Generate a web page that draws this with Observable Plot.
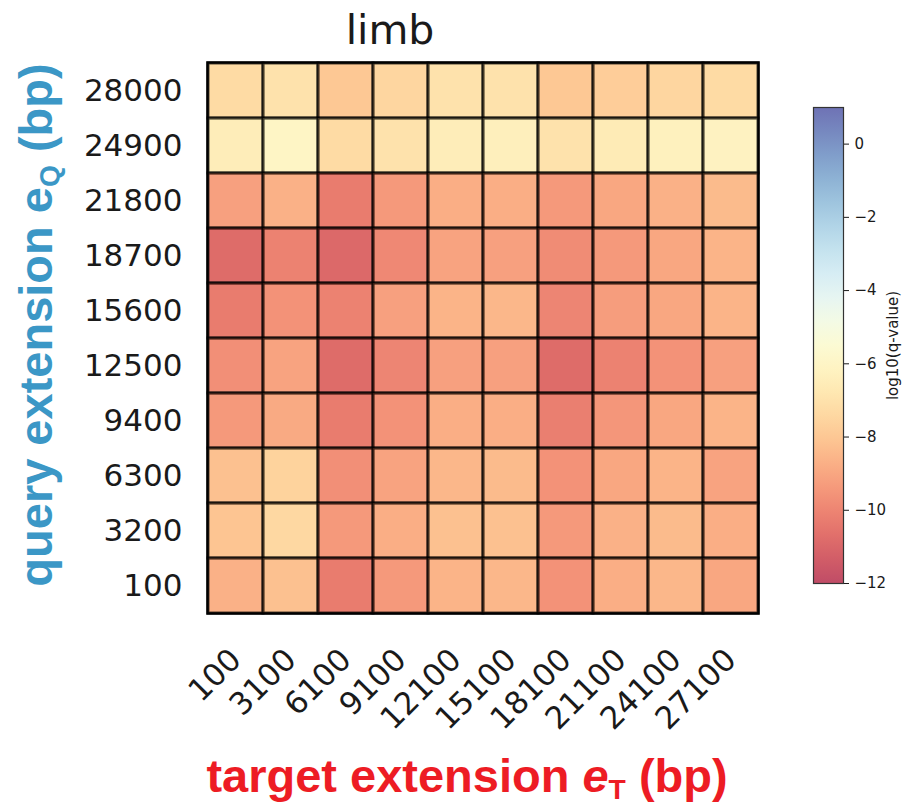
<!DOCTYPE html>
<html>
<head>
<meta charset="utf-8">
<script src="https://cdn.jsdelivr.net/npm/d3@7"></script>
<script src="https://cdn.jsdelivr.net/npm/@observablehq/plot@0.6"></script>
<style>
  html, body { margin: 0; padding: 0; background: #fff; }
  #wrap { position: relative; width: 910px; height: 808px; overflow: hidden; }
  #wrap svg { position: absolute; left: 0; top: 0; }
  .lbl { position: absolute; white-space: nowrap; font-family: "Liberation Sans", Arial, sans-serif; font-weight: bold; font-size: 47px; line-height: 1; }
  .lbl sub { font-size: 0.6em; vertical-align: -0.25em; }
</style>
</head>
<body>
<div id="wrap">
  <div class="lbl" id="title" style="font-family:'DejaVu Sans';font-weight:normal;font-size:41px;color:#1a1a1a;left:390px;top:30px;transform:translate(-50%,-50%);">limb</div>
  <div class="lbl" id="ylab" style="color:#3b97c6;left:38px;top:325px;transform:translate(-50%,-50%) rotate(-90deg);">query extension e<sub>Q</sub> (bp)</div>
  <div class="lbl" id="xlab" style="color:#ed1c24;left:467px;top:778px;transform:translate(-50%,-50%);">target extension <i>e</i><sub>T</sub> (bp)</div>
</div>
<script>
// categories
const targetExt = ["100","3100","6100","9100","12100","15100","18100","21100","24100","27100"];
const queryExt  = ["28000","24900","21800","18700","15600","12500","9400","6300","3200","100"]; // top to bottom

// log10(q-value) per query-extension row, across target extensions
const q28000 = [-7.3, -7.0, -8.0, -7.5, -7.0, -7.0, -8.0, -7.8, -7.5, -7.3];
const q24900 = [-6.5, -6.0, -7.3, -7.0, -6.5, -6.4, -7.0, -6.6, -6.3, -6.2];
const q21800 = [-9.2, -8.7, -10.3, -9.4, -8.8, -8.8, -9.4, -9.0, -8.7, -8.4];
const q18700 = [-10.8, -10.1, -10.9, -9.9, -9.1, -9.2, -9.8, -9.4, -9.0, -8.6];
const q15600 = [-10.3, -9.6, -10.1, -9.2, -8.6, -8.5, -10.0, -9.3, -9.0, -8.6];
const q12500 = [-9.7, -9.1, -10.8, -10.0, -9.2, -9.2, -10.8, -10.1, -9.6, -9.2];
const q9400  = [-9.4, -8.9, -10.3, -9.6, -8.8, -8.8, -10.2, -9.5, -9.0, -8.6];
const q6300  = [-8.2, -7.6, -9.7, -9.1, -8.5, -8.4, -9.6, -9.0, -8.6, -9.1];
const q3200  = [-8.1, -7.4, -9.4, -8.8, -8.2, -8.2, -9.4, -8.7, -8.4, -8.8];
const q100   = [-8.7, -8.2, -10.3, -9.4, -8.6, -8.5, -9.6, -8.8, -8.5, -9.0];

const rows = [q28000, q24900, q21800, q18700, q15600, q12500, q9400, q6300, q3200, q100];

// colorbar
const colorDomain = [-12, 1];
const colorTicks = [-12, -10, -8, -6, -4, -2, 0];

const cells = [];
queryExt.forEach((q, i) => targetExt.forEach((t, j) => cells.push({q, t, v: rows[i][j]})));

const wrap = document.getElementById("wrap");

const main = Plot.plot({
  width: 910,
  height: 808,
  marginLeft: 207,
  marginRight: 152,
  marginTop: 62,
  marginBottom: 195,
  style: {fontFamily: "DejaVu Sans", fontSize: "31px", color: "#1a1a1a", background: "transparent", overflow: "visible"},
  x: {type: "band", domain: targetExt, padding: 0},
  y: {type: "band", domain: queryExt, padding: 0},
  color: {type: "linear", scheme: "RdYlBu", domain: colorDomain},
  marks: [
    Plot.cell(cells, {x: "t", y: "q", fill: "v", fillOpacity: 0.7, stroke: "#000", strokeOpacity: 0.68, strokeWidth: 3}),
    Plot.frame({stroke: "#000", strokeWidth: 2.5}),
    Plot.axisX({anchor: "bottom", tickRotate: -45, tickSize: 0, tickPadding: 41, fontSize: 31, label: null}),
    Plot.axisY({anchor: "left", tickSize: 0, tickPadding: 25, fontSize: 31, label: null})
  ]
});
wrap.appendChild(main);

const cbar = Plot.plot({
  width: 910,
  height: 808,
  marginLeft: 813,
  marginRight: 67,
  marginTop: 107,
  marginBottom: 225,
  style: {fontFamily: "DejaVu Sans", fontSize: "15px", color: "#1a1a1a", background: "transparent", overflow: "visible"},
  x: {domain: [0, 1], axis: null},
  y: {domain: colorDomain},
  marks: [
    Plot.rect([{y1: colorDomain[0], y2: colorDomain[1]}], {x1: 0, x2: 1, y1: "y1", y2: "y2", fill: "url(#cbgrad)", fillOpacity: 0.7}),
    Plot.frame({stroke: "#333", strokeWidth: 1.2}),
    Plot.axisY({anchor: "right", ticks: colorTicks, tickSize: 5, tickPadding: 6, fontSize: 15,
      label: "log10(q-value)", labelAnchor: "center", labelArrow: "none", labelOffset: 54})
  ]
});
const defs = d3.select(cbar).insert("defs", ":first-child");
const grad = defs.append("linearGradient").attr("id", "cbgrad").attr("x1", 0).attr("y1", 1).attr("x2", 0).attr("y2", 0);
d3.range(0, 1.0001, 0.05).forEach(o => grad.append("stop").attr("offset", o).attr("stop-color", d3.interpolateRdYlBu(o)));
wrap.appendChild(cbar);
</script>
</body>
</html>
